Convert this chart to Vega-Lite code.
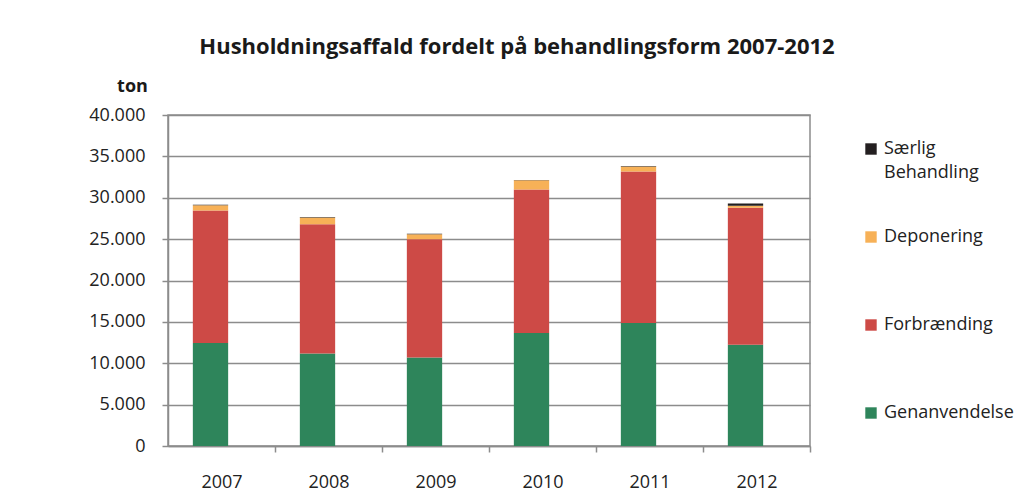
{
  "$schema": "https://vega.github.io/schema/vega-lite/v6.json",
  "autosize": "none",
  "padding": {"left": 168, "top": 115, "right": 208, "bottom": 47},
  "width": 642,
  "height": 331,
  "background": "white",
  "title": {
    "text": "Husholdningsaffald fordelt på behandlingsform 2007-2012",
    "font": "Open Sans",
    "fontSize": 22,
    "fontWeight": "bold",
    "color": "#1a1a1a",
    "anchor": "middle",
    "dx": 28,
    "offset": 18
  },
  "data": {
    "values": [
      {"year": "2007", "type": "Genanvendelse", "ton": 12440},
      {"year": "2007", "type": "Forbrænding", "ton": 16010},
      {"year": "2007", "type": "Deponering", "ton": 640},
      {"year": "2007", "type": "Særlig Behandling", "ton": 60},
      {"year": "2008", "type": "Genanvendelse", "ton": 11180},
      {"year": "2008", "type": "Forbrænding", "ton": 15630},
      {"year": "2008", "type": "Deponering", "ton": 790},
      {"year": "2008", "type": "Særlig Behandling", "ton": 60},
      {"year": "2009", "type": "Genanvendelse", "ton": 10700},
      {"year": "2009", "type": "Forbrænding", "ton": 14300},
      {"year": "2009", "type": "Deponering", "ton": 580},
      {"year": "2009", "type": "Særlig Behandling", "ton": 60},
      {"year": "2010", "type": "Genanvendelse", "ton": 13650},
      {"year": "2010", "type": "Forbrænding", "ton": 17340},
      {"year": "2010", "type": "Deponering", "ton": 1110},
      {"year": "2010", "type": "Særlig Behandling", "ton": 60},
      {"year": "2011", "type": "Genanvendelse", "ton": 14850},
      {"year": "2011", "type": "Forbrænding", "ton": 18310},
      {"year": "2011", "type": "Deponering", "ton": 630},
      {"year": "2011", "type": "Særlig Behandling", "ton": 60},
      {"year": "2012", "type": "Genanvendelse", "ton": 12230},
      {"year": "2012", "type": "Forbrænding", "ton": 16570},
      {"year": "2012", "type": "Deponering", "ton": 220},
      {"year": "2012", "type": "Særlig Behandling", "ton": 280}
    ]
  },
  "transform": [
    {"calculate": "indexof(['Genanvendelse','Forbrænding','Deponering','Særlig Behandling'], datum.type)", "as": "stackRank"}
  ],
  "mark": {"type": "bar", "xOffset": -11},
  "encoding": {
    "x": {
      "field": "year",
      "type": "nominal",
      "scale": {"paddingInner": 0.67, "paddingOuter": 0.335},
      "axis": {
        "title": null,
        "labelAngle": 0,
        "tickOffset": 53.5,
        "labelOffset": -53.5,
        "labelFont": "Open Sans",
        "labelFontSize": 18,
        "labelColor": "#222222",
        "labelPadding": 21,
        "tickSize": 6,
        "tickColor": "#8c8c8c",
        "tickWidth": 1.5,
        "domainColor": "#8c8c8c",
        "domainWidth": 1.5
      }
    },
    "y": {
      "field": "ton",
      "type": "quantitative",
      "aggregate": "sum",
      "stack": "zero",
      "scale": {"domain": [0, 40000], "nice": false},
      "axis": {
        "title": "ton",
        "titleAngle": 0,
        "titleX": -36,
        "titleY": -29,
        "titleAlign": "center",
        "titleBaseline": "middle",
        "titleFont": "Open Sans",
        "titleFontSize": 18,
        "titleFontWeight": "bold",
        "titleColor": "#1a1a1a",
        "values": [0, 5000, 10000, 15000, 20000, 25000, 30000, 35000, 40000],
        "labelExpr": "replace(format(datum.value, ','), ',', '.')",
        "labelFont": "Open Sans",
        "labelFontSize": 18,
        "labelColor": "#222222",
        "labelPadding": 17,
        "tickSize": 6,
        "tickColor": "#8c8c8c",
        "tickWidth": 1.5,
        "domainColor": "#8c8c8c",
        "domainWidth": 1.5,
        "gridColor": "#8c8c8c",
        "gridWidth": 1.5
      }
    },
    "color": {
      "field": "type",
      "type": "nominal",
      "scale": {
        "domain": ["Særlig Behandling", "Deponering", "Forbrænding", "Genanvendelse"],
        "range": ["#231f20", "#f7b157", "#cd4a46", "#2e855b"]
      },
      "legend": {
        "title": null,
        "orient": "none",
        "legendX": 694,
        "legendY": 25,
        "symbolType": "square",
        "symbolSize": 130,
        "symbolStrokeWidth": 0,
        "labelFont": "Open Sans",
        "labelFontSize": 18,
        "labelColor": "#222222",
        "labelOffset": 4,
        "labelLimit": 200,
        "gridAlign": "all",
        "rowPadding": 46,
        "labelExpr": "datum.label == 'Særlig Behandling' ? ['Særlig', 'Behandling'] : datum.label",
        "encode": {"labels": {"update": {"lineHeight": {"value": 24}}}}
      }
    },
    "order": {"field": "stackRank", "type": "quantitative", "sort": "ascending"}
  },
  "config": {
    "view": {"stroke": "#8c8c8c", "strokeWidth": 1.5}
  }
}
